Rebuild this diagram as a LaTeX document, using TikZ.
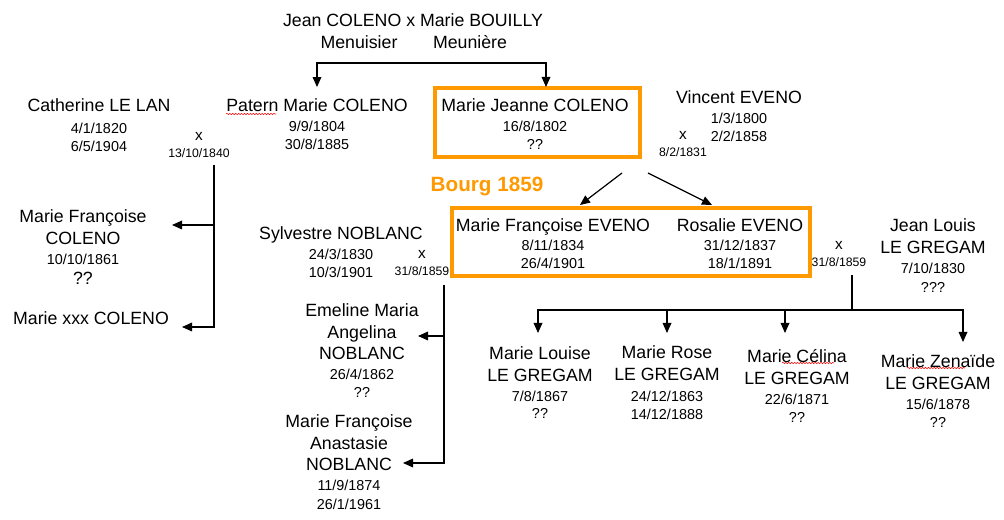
\documentclass[tikz,border=0pt]{standalone}
\usepackage{fontspec}
\setmainfont{Liberation Sans}
\usetikzlibrary{arrows.meta,decorations.pathmorphing}

\definecolor{bourg}{RGB}{255,153,0}
\newcommand{\dates}{\fontsize{10.8}{13.5}\selectfont}
\newcommand{\wedx}{\fontsize{11.5}{12.5}\selectfont}

\begin{document}
\begin{tikzpicture}[
    x=0.75pt, y=-0.75pt,
    % general settings
    align=center,
    inner sep=0pt,
    % nodes
    person/.style={anchor=north, font=\fontsize{13.3}{16.2}\selectfont},
    header/.style={anchor=base, font=\fontsize{13.3}{16.2}\selectfont},
    wed/.style={anchor=north, font=\fontsize{9.2}{12.5}\selectfont},
    town/.style={anchor=base, font=\fontsize{15.5}{18}\selectfont\bfseries, text=bourg},
    family/.style={draw=bourg, line width=2.3pt},
    % arrows
    kin/.style={black, line width=0.9pt},
    descent/.style={kin, -{Triangle[length=7.5pt,width=6.5pt]}},
    typo/.style={red, line width=0.4pt, decorate,
                 decoration={snake, amplitude=0.5pt, segment length=2.2pt}}
  ]
  \useasboundingbox (0,0) rectangle (1004,520);

  % parents
  \node (parents)   [header] at (413,26.3) {Jean COLENO x Marie BOUILLY};
  \node (menuisier) [header] at (359,48.3) {Menuisier};
  \node (meuniere)  [header] at (470,48.3) {Meunière};

  % second row
  \node (catherine) [person] at (99,98.5)  {Catherine LE LAN\\\dates 4/1/1820\\[-2.7pt]\dates 6/5/1904};
  \node (patern)    [person] at (317,98.5) {Patern Marie COLENO\\[-1.2pt]\dates 9/9/1804\\[-2.7pt]\dates 30/8/1885};
  \node (jeanne)    [person] at (535,98.5) {Marie Jeanne COLENO\\[-1.2pt]\dates 16/8/1802\\[-2.7pt]\dates ??};
  \node (vincent)   [person] at (739,90.5) {Vincent EVENO\\[-1.2pt]\dates 1/3/1800\\[-3pt]\dates 2/2/1858};

  \node (m1840) [wed] at (199,132) {\wedx x\\13/10/1840};
  \node (m1831) [wed] at (683,131) {\wedx x\\8/2/1831};

  \draw[family] (435,88) rectangle (640,157);
  \node (bourg) [town] at (487,191.4) {Bourg 1859};

  % third row
  \node (mfcoleno)  [person] at (83,209.5)  {Marie Françoise\\COLENO\\[-1.2pt]\dates 10/10/1861\\[-1.2pt]??};
  \node (mxcoleno)  [person] at (91,311.5)  {Marie xxx COLENO};
  \node (sylvestre) [person] at (341,226.5) {Sylvestre NOBLANC\\[-1.2pt]\dates 24/3/1830\\[-2.7pt]\dates 10/3/1901};
  \node (mfeveno)   [person] at (553,218.5) {Marie Françoise EVENO\\[-2pt]\dates 8/11/1834\\[-2.7pt]\dates 26/4/1901};
  \node (rosalie)   [person] at (740,218.5) {Rosalie EVENO\\[-2pt]\dates 31/12/1837\\[-2.7pt]\dates 18/1/1891};
  \node (jeanlouis) [person] at (933,218.5) {Jean Louis\\LE GREGAM\\[-1.2pt]\dates 7/10/1830\\[-2pt]\dates ???};

  \node (m1859a) [wed] at (422,250) {\wedx x\\31/8/1859};
  \node (m1859b) [wed] at (839,241) {\wedx x\\31/8/1859};

  \draw[family] (452,208) rectangle (810,276);

  % children
  \node (emeline)   [person] at (362,303.5) {Emeline Maria\\Angelina\\NOBLANC\\[-1.2pt]\dates 26/4/1862\\[-3pt]\dates ??};
  \node (anastasie) [person] at (349,414.5) {Marie Françoise\\Anastasie\\NOBLANC\\[-1.2pt]\dates 11/9/1874\\[-2pt]\dates 26/1/1961};
  \node (louise)    [person] at (540,346.5) {Marie Louise\\LE GREGAM\\[-1.2pt]\dates 7/8/1867\\[-3pt]\dates ??};
  \node (rose)      [person] at (667,345.5) {Marie Rose\\LE GREGAM\\\dates 24/12/1863\\[-3pt]\dates 14/12/1888};
  \node (celina)    [person] at (797,349.5) {Marie Célina\\LE GREGAM\\[-1.2pt]\dates 22/6/1871\\[-2.7pt]\dates ??};
  \node (zenaide)   [person] at (938,354.5) {Marie Zenaïde\\LE GREGAM\\[-1.2pt]\dates 15/6/1878\\[-2.7pt]\dates ??};

  % spell check marks
  \draw[typo] (226,114) -- (276,114);
  \draw[typo] (782,363) -- (834,363);
  \draw[typo] (907,368) -- (965,368);

  % connectors
  \coordinate (colenobar) at (431,63);
  \coordinate (jeannetop) at (546,87);
  \draw[descent] (colenobar) -| (jeannetop);
  \draw[descent, shorten >=8.6pt] (colenobar) -| (patern.north);

  \coordinate (lanfork)     at (214,165);
  \coordinate (mfcolenotip) at (172,225);
  \coordinate (mxcolenotip) at (182,327);
  \draw[descent] (lanfork) |- (mfcolenotip);
  \draw[descent] (lanfork) |- (mxcolenotip);

  \coordinate (evenoleft)  at (622,173);
  \coordinate (evenoright) at (648,173);
  \coordinate (mfevenotip) at (580,205);
  \coordinate (rosalietip) at (712,205);
  \draw[descent] (evenoleft)  -- (mfevenotip);
  \draw[descent] (evenoright) -- (rosalietip);

  \coordinate (noblancfork)  at (444,285);
  \coordinate (emelinetip)   at (418,336);
  \coordinate (anastasietip) at (403,463);
  \draw[descent] (noblancfork) |- (emelinetip);
  \draw[descent] (noblancfork) |- (anastasietip);

  \coordinate (gregamfork) at (852,275);
  \coordinate (gregambar)  at (852,310);
  \coordinate (louisetip)  at (538,333);
  \coordinate (rosetip)    at (667,333);
  \coordinate (celinatip)  at (785,333);
  \coordinate (zenaidetip) at (963,342);
  \draw[kin] (gregamfork) -- (gregambar);
  \draw[descent] (gregambar) -| (louisetip);
  \draw[descent] (gregambar) -| (rosetip);
  \draw[descent] (gregambar) -| (celinatip);
  \draw[descent] (gregambar) -| (zenaidetip);
\end{tikzpicture}
\end{document}
